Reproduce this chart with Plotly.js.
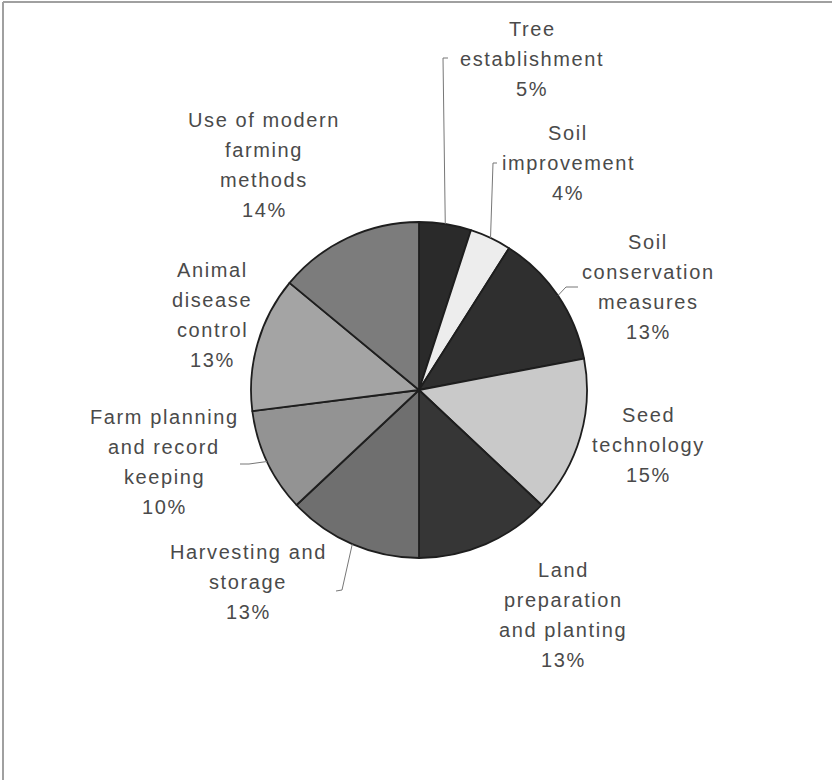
<!DOCTYPE html>
<html><head><meta charset="utf-8">
<script src="https://cdn.plot.ly/plotly-3.0.1.min.js"></script>
<style>
html,body{margin:0;padding:0;background:#fff;}
#chart{width:832px;height:780px;}
.annotation-text{letter-spacing:1.6px;}
</style></head><body><div id="chart"></div>
<script>
// ---- data ----
const categories = [
  'Tree<br>establishment',
  'Soil<br>improvement',
  'Soil<br>conservation<br>measures',
  'Seed<br>technology',
  'Land<br>preparation<br>and planting',
  'Harvesting and<br>storage',
  'Farm planning<br>and record<br>keeping',
  'Animal<br>disease<br>control',
  'Use of modern<br>farming<br>methods'
];
const shares = [5, 4, 13, 15, 13, 13, 10, 13, 14];

// ---- styles / layout ----
const sliceColors = ['#2a2a2a', '#ededed', '#2f2f2f', '#c9c9c9', '#363636', '#6f6f6f', '#939393', '#a4a4a4', '#7c7c7c'];
const W = 832, H = 780;
const cx = 419, cy = 390, R = 168;
const labelCenters = [[532, 29], [568, 133], [648, 242], [648, 415], [563, 570], [248, 552], [164, 417], [212, 270], [264, 120]];
const lineStep = 30;
const leaderBends = [
  [[443, 58], [448, 58]],
  [[493, 163], [497, 163]],
  [[566, 287], [578, 287]],
  null, null,
  [[342, 590], [336, 591]],
  [[249, 464], [240, 464]],
  null, null
];
const fx = px => px / W, fy = py => 1 - py / H;

const total = shares.reduce((a, b) => a + b, 0);
let cum = 0;
const annotations = [];
const shapes = [];
categories.forEach((cat, i) => {
  const mid = (cum + shares[i] / 2) / total * 2 * Math.PI;
  cum += shares[i];
  const lines = cat.split('<br>').concat([shares[i] + '%']);
  const [lx, ly] = labelCenters[i];
  lines.forEach((t, j) => {
    annotations.push({
      xref: 'paper', yref: 'paper', x: fx(lx), y: fy(ly + j * lineStep),
      text: t, showarrow: false, xanchor: 'center', yanchor: 'middle',
      font: {family: 'Liberation Sans, Arial, sans-serif', size: 20, color: '#4a4a4a'}
    });
  });
  if (leaderBends[i]) {
    const sx = cx + R * Math.sin(mid), sy = cy - R * Math.cos(mid);
    let p = 'M ' + fx(sx) + ' ' + fy(sy);
    leaderBends[i].forEach(([bx, by]) => { p += ' L ' + fx(bx) + ' ' + fy(by); });
    shapes.push({type: 'path', xref: 'paper', yref: 'paper', path: p, line: {color: '#777', width: 1}});
  }
});
// frame
shapes.push({type: 'line', xref: 'paper', yref: 'paper', x0: fx(3), x1: 1, y0: fy(2), y1: fy(2), line: {color: '#a0a0a0', width: 2}});
shapes.push({type: 'line', xref: 'paper', yref: 'paper', x0: fx(3), x1: fx(3), y0: fy(2), y1: 0, line: {color: '#a0a0a0', width: 2}});

const trace = {
  type: 'pie',
  labels: categories,
  values: shares,
  sort: false,
  direction: 'clockwise',
  rotation: 0,
  textinfo: 'none',
  hoverinfo: 'skip',
  domain: {x: [fx(cx - R), fx(cx + R)], y: [fy(cy + R), fy(cy - R)]},
  marker: {
    colors: sliceColors,
    line: {color: '#1e1e1e', width: 1.8}
  }
};

Plotly.newPlot('chart', [trace], {
  width: W, height: H,
  margin: {l: 0, r: 0, t: 0, b: 0},
  showlegend: false,
  paper_bgcolor: '#ffffff',
  annotations: annotations,
  shapes: shapes
}, {displayModeBar: false, staticPlot: true});
</script></body></html>
